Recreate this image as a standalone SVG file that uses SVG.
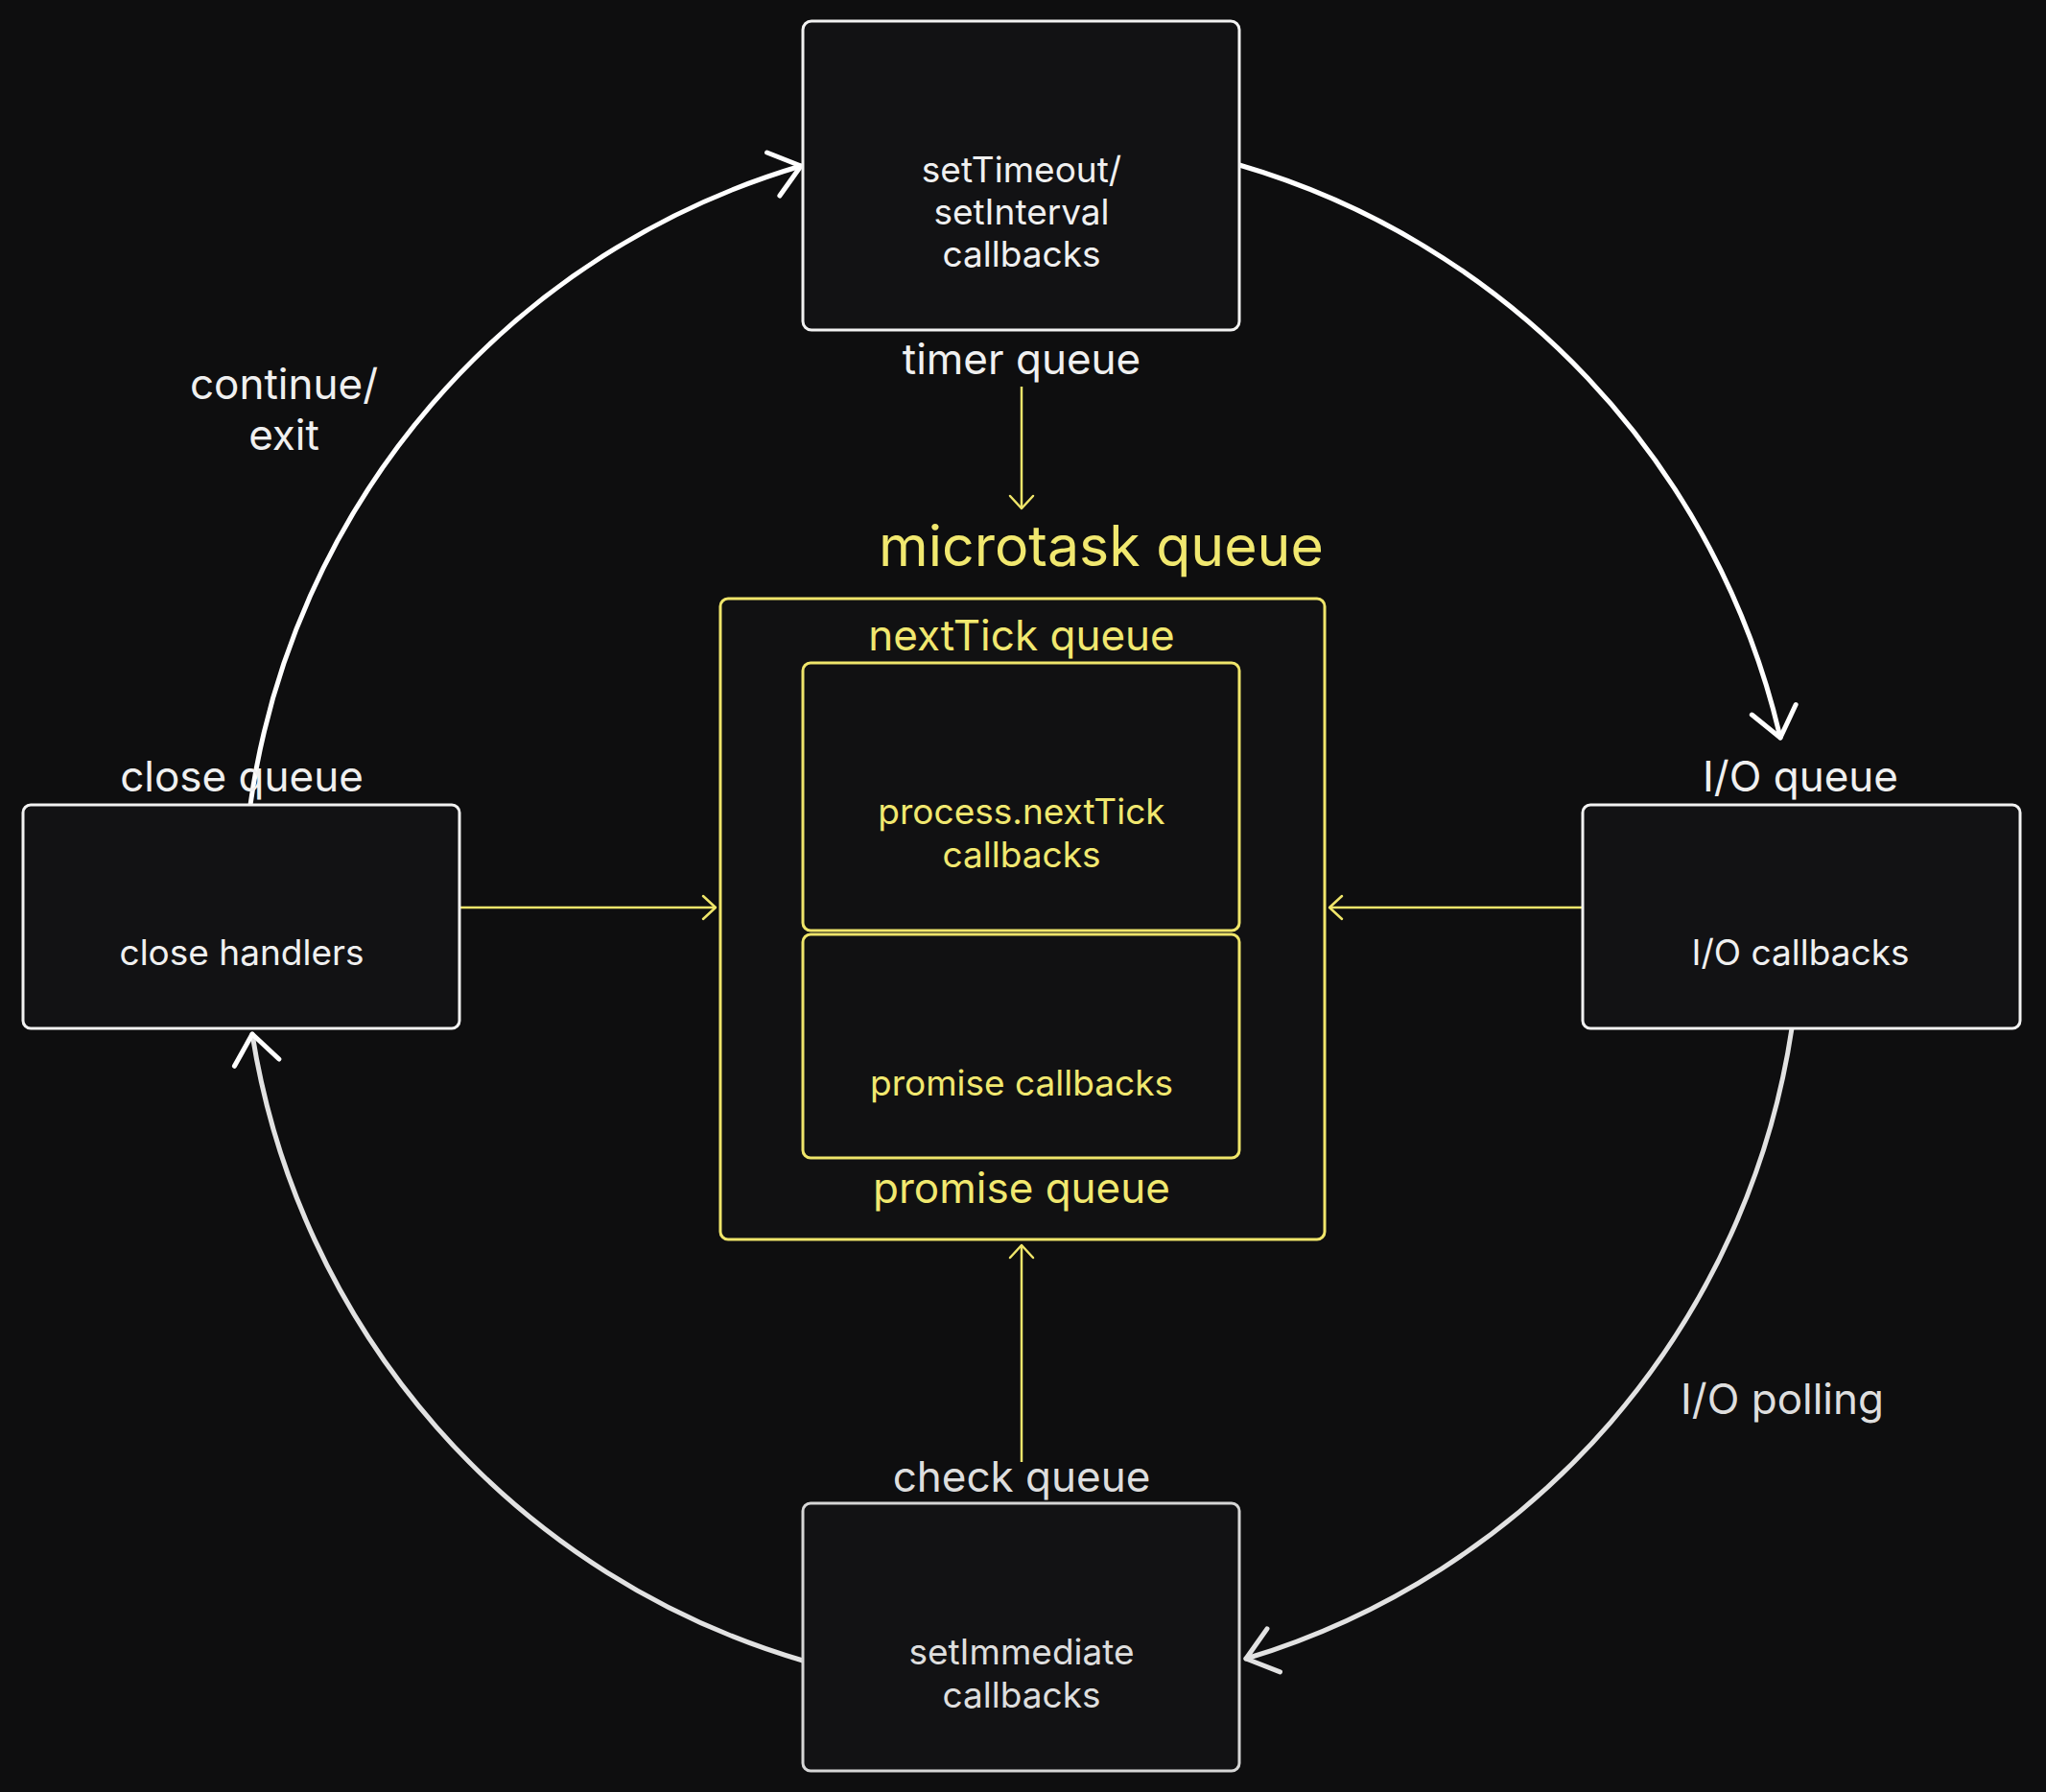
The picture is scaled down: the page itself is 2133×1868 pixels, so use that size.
<svg xmlns="http://www.w3.org/2000/svg" width="2133" height="1868" viewBox="0 0 2133 1868">
<defs>
<style>
.bg{fill:#0e0e0f}
.box{fill:#121214;stroke:#f2f2f2;stroke-width:3}
.boxg{fill:#121214;stroke:#d6d6d6;stroke-width:3}
.ybox{fill:#111112;stroke:#efe56a;stroke-width:3}
.t{font-family:Inter,"Noto Sans","Liberation Sans",sans-serif;text-anchor:middle;fill:#f0f0f0}
.tg{fill:#dedede}
.ty{fill:#f1e86f}
.s37{font-size:37px}
.s44{font-size:44px}
.s58{font-size:59px}
.arc{fill:none;stroke:#ffffff;stroke-width:5;stroke-linecap:round}
.arcg{fill:none;stroke:#e2e2e2;stroke-width:5;stroke-linecap:round}
.yl{fill:none;stroke:#efe56a;stroke-width:2.5}
</style>
<marker id="aw" markerUnits="userSpaceOnUse" markerWidth="80" markerHeight="80" refX="0" refY="0" orient="auto" overflow="visible" viewBox="-40 -40 80 80">
<path d="M -30 -23.5 L 0 0 L -30 23.5" fill="none" stroke="#ffffff" stroke-width="5" stroke-linecap="round" stroke-linejoin="round"/>
</marker>
<marker id="ag" markerUnits="userSpaceOnUse" markerWidth="80" markerHeight="80" refX="0" refY="0" orient="auto" overflow="visible" viewBox="-40 -40 80 80">
<path d="M -30 -23.5 L 0 0 L -30 23.5" fill="none" stroke="#e2e2e2" stroke-width="5" stroke-linecap="round" stroke-linejoin="round"/>
</marker>
<marker id="ay" markerUnits="userSpaceOnUse" markerWidth="40" markerHeight="40" refX="0" refY="0" orient="auto" overflow="visible" viewBox="-20 -20 40 40">
<path d="M -13 -12 L 0 0 L -13 12" fill="none" stroke="#efe56a" stroke-width="2.5" stroke-linecap="round" stroke-linejoin="round"/>
</marker>
</defs>
<rect class="bg" x="0" y="0" width="2133" height="1868"/>

<g id="connectors">
<path class="arc" d="M 261 839 A 812 812 0 0 1 835 173" marker-end="url(#aw)"/>
<path class="arc" d="M 1292 172 A 812 812 0 0 1 1856 769" marker-end="url(#aw)"/>
<path class="arcg" d="M 1868 1072 A 812 812 0 0 1 1299 1729" marker-end="url(#ag)"/>
<path class="arcg" d="M 837 1731 A 812 812 0 0 1 263 1078" marker-end="url(#aw)"/>
<line class="yl" x1="1065" y1="403" x2="1065" y2="530" marker-end="url(#ay)"/>
<line class="yl" x1="1065" y1="1524" x2="1065" y2="1298" marker-end="url(#ay)"/>
<line class="yl" x1="479" y1="946" x2="746" y2="946" marker-end="url(#ay)"/>
<line class="yl" x1="1650" y1="946" x2="1386" y2="946" marker-end="url(#ay)"/>
</g>

<g id="timer">
<rect class="box" x="837" y="22" width="455" height="322" rx="9"/>
<text class="t s37" x="1065" y="190">setTimeout/</text>
<text class="t s37" x="1065" y="234">setInterval</text>
<text class="t s37" x="1065" y="278">callbacks</text>
<text class="t s44" x="1065" y="390">timer queue</text>
</g>

<g id="microtask">
<text class="t ty s58" x="1148" y="590">microtask queue</text>
<rect class="ybox" x="751" y="624" width="630" height="668" rx="8"/>
<text class="t ty s44" x="1065" y="678">nextTick queue</text>
<text class="t ty s44" x="1065" y="1254">promise queue</text>
</g>

<g id="nexttick">
<rect class="ybox" x="837" y="691" width="455" height="279" rx="8"/>
<text class="t ty s37" x="1065" y="859">process.nextTick</text>
<text class="t ty s37" x="1065" y="904">callbacks</text>
</g>

<g id="promise">
<rect class="ybox" x="837" y="974" width="455" height="233" rx="8"/>
<text class="t ty s37" x="1065" y="1142">promise callbacks</text>
</g>

<g id="close">
<text class="t s44" x="252" y="825">close queue</text>
<rect class="box" x="24" y="839" width="455" height="233" rx="8"/>
<text class="t s37" x="252" y="1006">close handlers</text>
</g>

<g id="io">
<text class="t s44" x="1877" y="825">I/O queue</text>
<rect class="box" x="1650" y="839" width="456" height="233" rx="8"/>
<text class="t s37" x="1877" y="1006">I/O callbacks</text>
</g>

<g id="check">
<text class="t tg s44" x="1065" y="1555">check queue</text>
<rect class="boxg" x="837" y="1567" width="455" height="279" rx="8"/>
<text class="t tg s37" x="1065" y="1735">setImmediate</text>
<text class="t tg s37" x="1065" y="1780">callbacks</text>
</g>

<g id="labels">
<text class="t s44" x="296" y="416">continue/</text>
<text class="t s44" x="296" y="469">exit</text>
<text class="t tg s44" x="1858" y="1474">I/O polling</text>
</g>
</svg>
